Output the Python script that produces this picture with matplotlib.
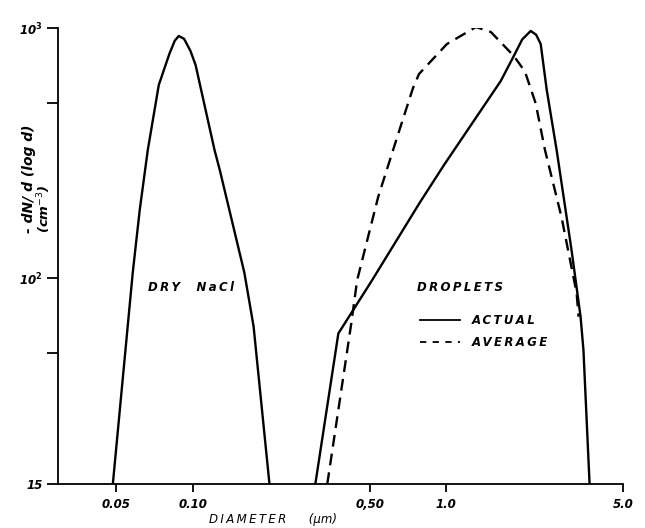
import matplotlib
matplotlib.use("Agg")
import matplotlib.pyplot as plt
from matplotlib.lines import Line2D

# ---- data ----
nacl_d = [0.0484, 0.0580, 0.0618, 0.0665, 0.0735, 0.0810, 0.0850, 0.0881, 0.0925, 0.0980, 0.1027,
          0.122, 0.128, 0.160, 0.174, 0.201]
nacl_n = [15, 105, 187, 325, 592, 790, 890, 929, 905, 810, 711,
          325, 270, 105, 64, 15]

actual_d = [0.305, 0.376, 0.511, 0.790, 0.982, 1.646, 1.853, 2.00, 2.16, 2.27, 2.366,
            2.50, 2.735, 3.133, 3.40, 3.49, 3.69]
actual_n = [15, 60, 98, 201, 283, 614, 773, 900, 973, 940, 863,
            565, 325, 129, 70, 51.5, 15]

average_d = [0.340, 0.423, 0.446, 0.540, 0.659, 0.741, 0.783, 1.009, 1.313, 1.504,
             1.853, 2.05, 2.26, 2.46, 2.86, 3.28, 3.34]
average_n = [15, 66, 98, 211, 398, 575, 655, 863, 1009, 964,
             773, 670, 500, 325, 175, 87, 70]

xtick_vals = [0.05, 0.10, 0.50, 1.0, 5.0]
xtick_labels = ["0.05", "0.10", "0,50", "1.0", "5.0"]
ytick_vals = [15, 50, 100, 500, 1000]
ytick_labels = ["15", "", "10$^{\\mathbf{2}}$", "", "10$^{\\mathbf{3}}$"]

W, H = 645, 528
fig = plt.figure(figsize=(W / 100, H / 100), dpi=100)
ax = fig.add_axes([58 / W, 1 - 484 / H, (623 - 58) / W, (484 - 28) / H])
ax.set_xscale("log")
ax.set_yscale("log")
ax.set_xlim(0.0294, 5.0)
ax.set_ylim(15, 1000)

lw = 1.7
ax.plot(nacl_d, nacl_n, color="black", lw=lw, solid_joinstyle="round")
ax.plot(actual_d, actual_n, color="black", lw=lw, solid_joinstyle="round")
ax.plot(average_d, average_n, color="black", lw=lw, dashes=[5.0, 3.0])

for s in ["top", "right"]:
    ax.spines[s].set_visible(False)
for s in ["left", "bottom"]:
    ax.spines[s].set_linewidth(1.3)

ax.minorticks_off()
ax.set_xticks(xtick_vals)
ax.set_xticklabels(xtick_labels)
ax.set_yticks(ytick_vals)
ax.set_yticklabels(ytick_labels)
ax.tick_params(axis="x", direction="out", length=6, width=1.3, pad=4)
ax.tick_params(axis="y", direction="out", length=8, width=1.3, pad=3)
for lab in ax.get_xticklabels() + ax.get_yticklabels():
    lab.set_fontstyle("italic")
    lab.set_fontweight("bold")
    lab.set_fontsize(8.5)

ax.set_xlabel("D\u2009I\u2009A\u2009M\u2009E\u2009T\u2009E\u2009R      (\u03bcm)",
              fontsize=8.5, fontstyle="italic")
ax.xaxis.set_label_coords((273 - 58) / (623 - 58), -(513 - 484) / (484 - 28))

fig.text(29 / W, 1 - 233 / H, "- dN/ d (log d)", rotation=90, ha="center", va="bottom",
         fontsize=10, fontstyle="italic", fontweight="bold")
fig.text(44 / W, 1 - 233 / H, "(cm$^{-3}$)", rotation=90, ha="center", va="bottom",
         fontsize=9.5, fontstyle="italic", fontweight="bold")

ax.text(0.0982, 92, "D\u2009R\u2009Y    N\u2009a\u2009C\u2009l", ha="center", va="center",
        fontsize=8.5, fontstyle="italic", fontweight="bold")
ax.text(0.769, 92, "D\u2009R\u2009O\u2009P\u2009L\u2009E\u2009T\u2009S", ha="left", va="center",
        fontsize=8.5, fontstyle="italic", fontweight="bold")

h1 = Line2D([], [], color="black", lw=1.3)
h2 = Line2D([], [], color="black", lw=1.3, dashes=[3.5, 3.5])
leg = ax.legend([h1, h2], ["A\u2009C\u2009T\u2009U\u2009A\u2009L", "A\u2009V\u2009E\u2009R\u2009A\u2009G\u2009E"],
                loc="upper left", bbox_to_anchor=(420 / W, 1 - 314 / H),
                bbox_transform=fig.transFigure, frameon=False, borderpad=0,
                borderaxespad=0, handlelength=3.4, handletextpad=1.0,
                labelspacing=0.75, prop={"size": 8.5, "style": "italic", "weight": "bold"})

fig.savefig("out.png", dpi=100)
